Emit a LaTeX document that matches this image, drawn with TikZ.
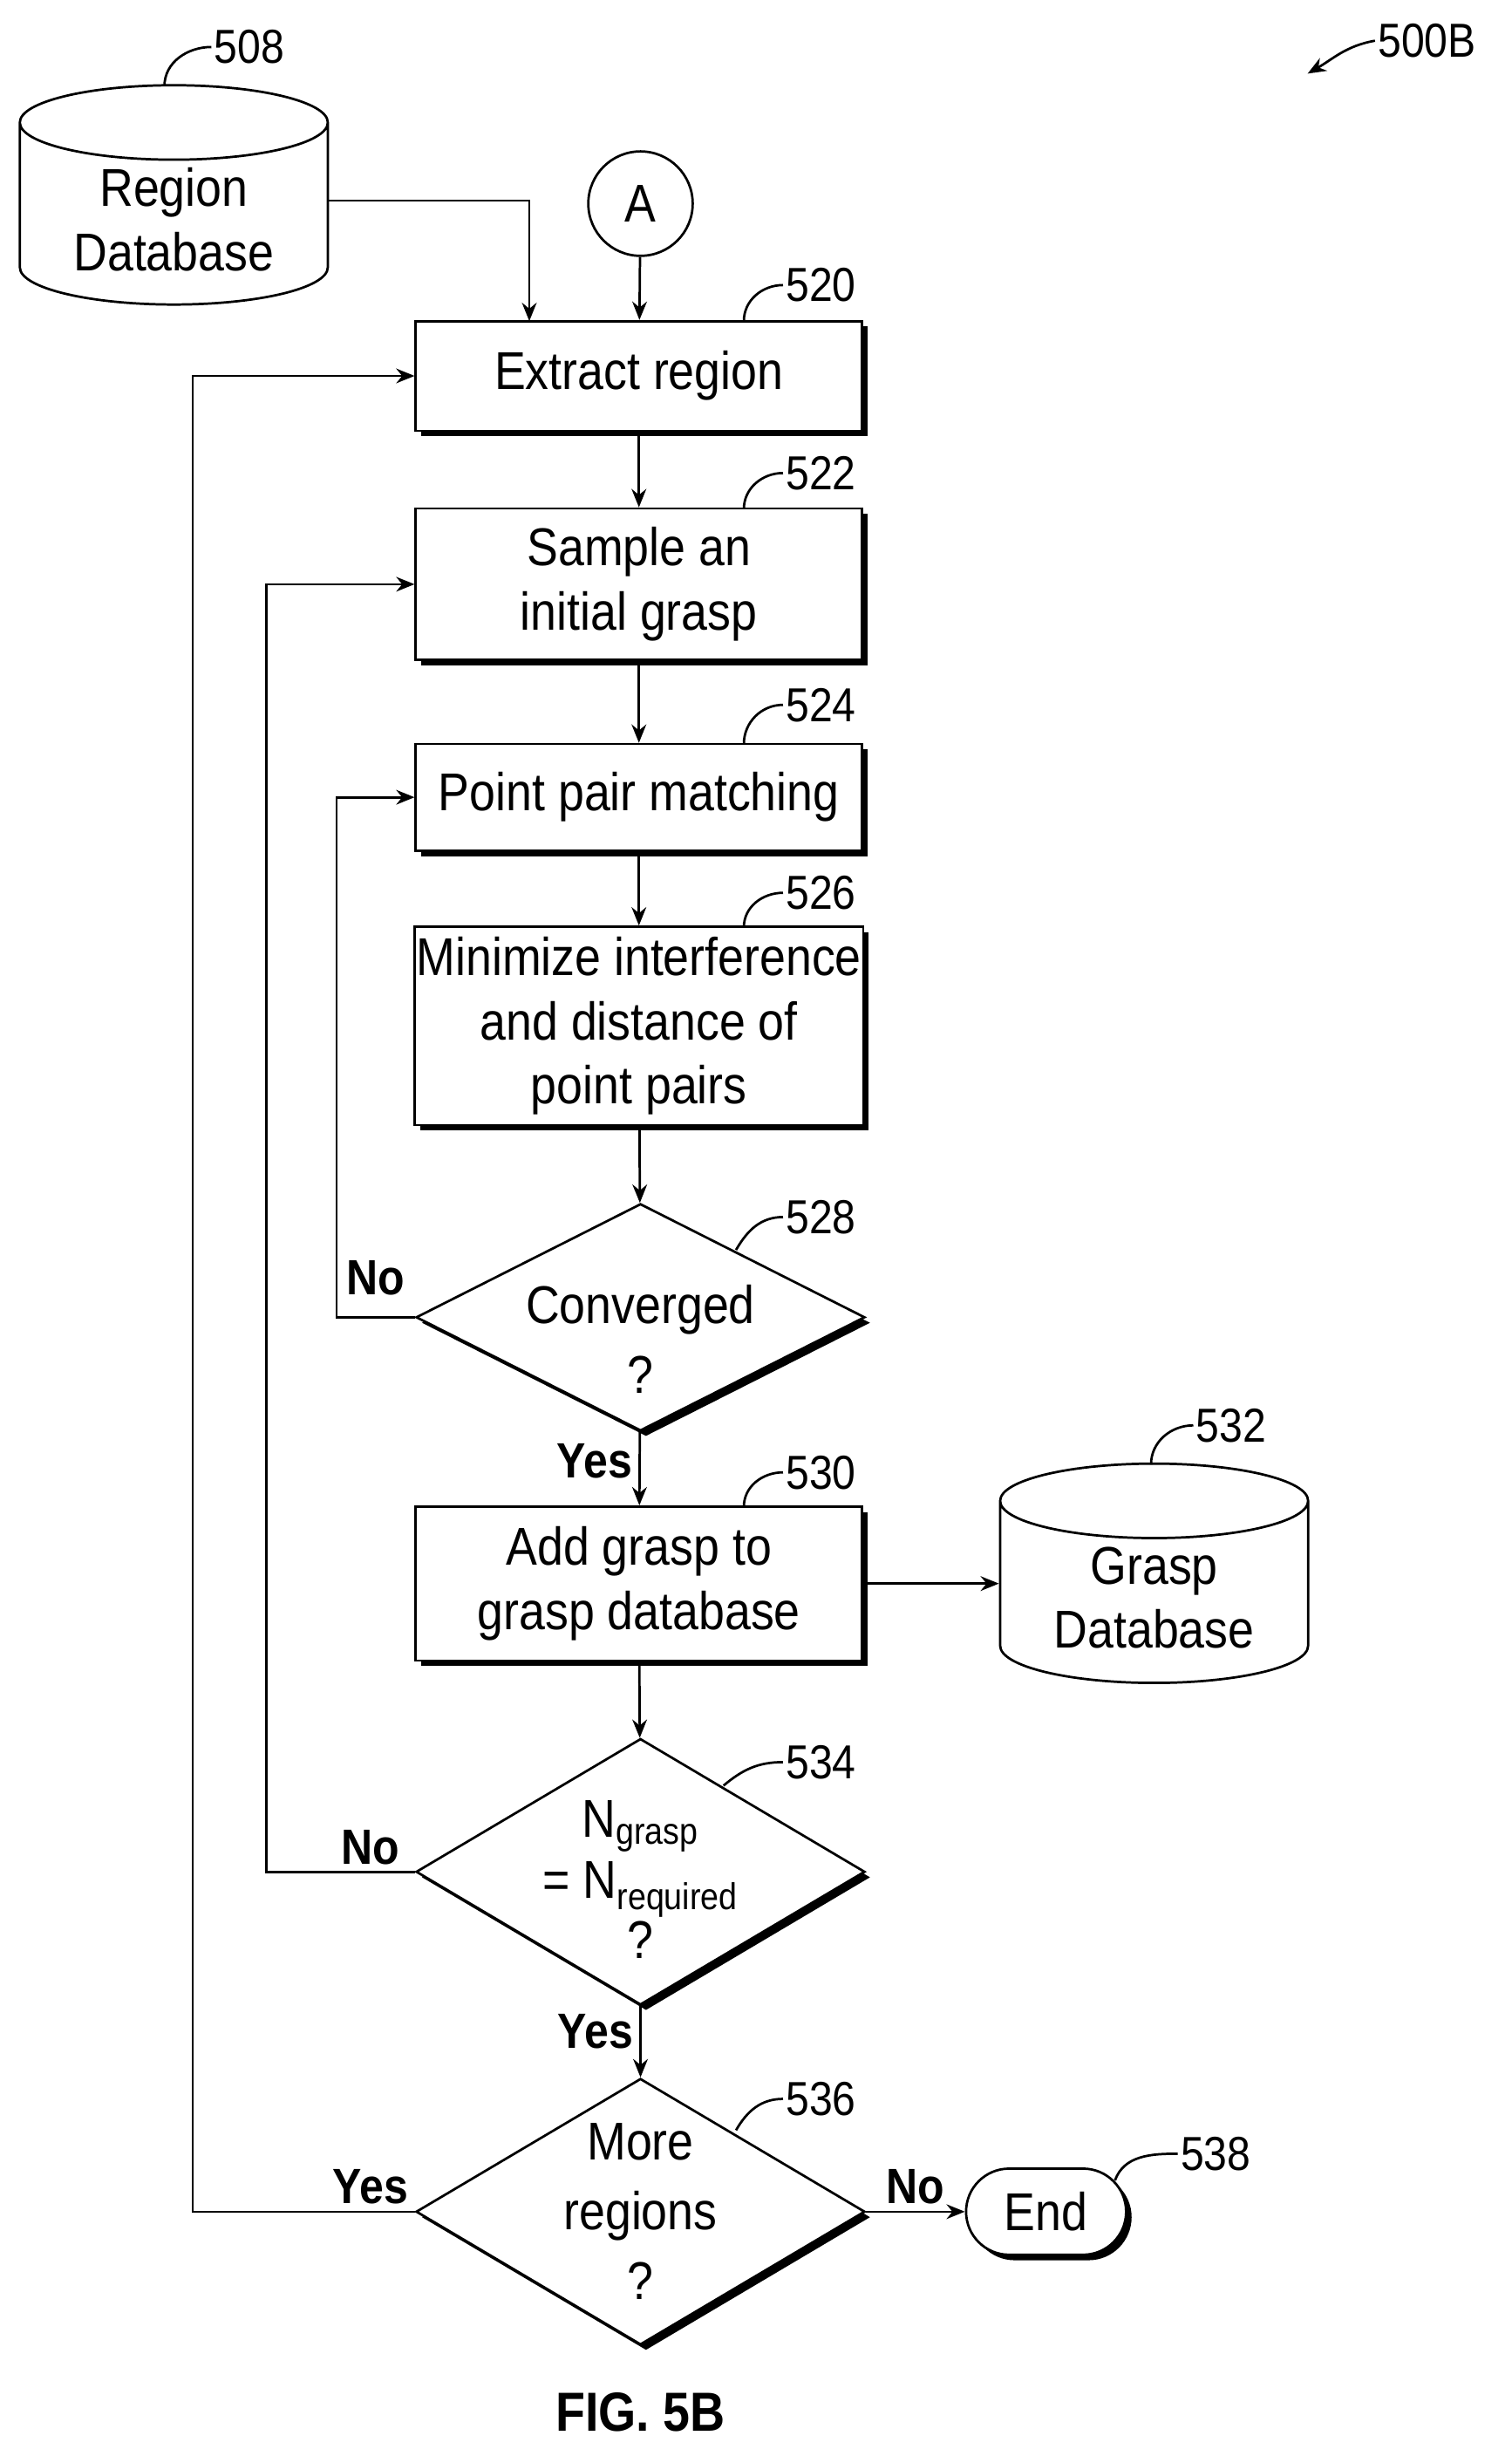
\documentclass[tikz,border=0pt]{standalone}
\usepackage{fontspec}
\setmainfont{Liberation Sans}[FakeStretch=0.88]
\usetikzlibrary{shapes.geometric,shapes.misc,shadows,arrows.meta}

\begin{document}
\begin{tikzpicture}[x=0.03cm,y=-0.03cm,>={Stealth[length=10pt,width=8pt]},line width=1.3pt,
  font=\fontsize{29}{35}\selectfont,
  proc/.style={rectangle,draw,fill=white,minimum width=8.55cm,align=center,
    inner sep=1pt,drop shadow={shadow xshift=3pt,shadow yshift=-3pt,fill=black,opacity=1}},
  dec/.style={diamond,draw,fill=white,minimum width=8.6cm,minimum height=4.35cm,inner sep=0pt,
    drop shadow={shadow xshift=3pt,shadow yshift=-3pt,fill=black,opacity=1}},
  store/.style={cylinder,shape border rotate=90,draw,fill=white,aspect=0.35,
    minimum width=5.9cm,minimum height=4.2cm,align=center},
  term/.style={rounded rectangle,draw,fill=white,minimum width=3.3cm,minimum height=1.65cm,
    drop shadow={shadow xshift=3pt,shadow yshift=-3pt,fill=black,opacity=1}},
  num/.style={font=\fontsize{26}{30}\selectfont,anchor=west,inner sep=1pt},
  yn/.style={font=\fontsize{27}{31}\selectfont\bfseries}]
  \useasboundingbox (0,0) rectangle (965,1568);

  % stores and connector
  \node[store] (regdb) at (111,140) {Region\\Database};
  \node[circle,draw,minimum size=2cm] (conA) at (409,130) {A};

  % process steps
  \node[proc,minimum height=2.1cm]  (extract) at (408,240) {Extract region};
  \node[proc,minimum height=2.9cm]  (sample)  at (408,373) {Sample an\\initial grasp};
  \node[proc,minimum height=2.04cm] (match)   at (408,509) {Point pair matching};
  \node[proc,minimum height=3.8cm]  (minim)   at (408,655) {Minimize interference\\and distance of\\point pairs};
  \node[dec] (conv) at (409,841) {};
  \node[align=center] at (409,855) {Converged\\[3pt]?};
  \node[proc,minimum height=2.95cm] (addg)    at (408,1011) {Add grasp to\\grasp database};
  \node[store,minimum height=4.2cm] (graspdb) at (737,1020) {Grasp\\Database};
  \node[dec,minimum height=5.1cm] (ngrasp) at (409,1195) {};
  \node[align=center,font=\fontsize{29}{33}\selectfont] at (409,1200) {N\textsubscript{grasp}\\= N\textsubscript{required}\\?};
  \node[dec,minimum height=5.1cm] (more) at (409,1412) {};
  \node[align=center,font=\fontsize{29}{38}\selectfont] at (409,1412) {More\\regions\\?};
  \node[term] (endn) at (668,1412) {End};

  % main flow
  \draw[->] (conA) -- (extract);
  \draw[->] (regdb.east |- 0,128) -| (338,205);
  \draw[->] (extract) -- (sample);
  \draw[->] (sample) -- (match);
  \draw[->] (match) -- (minim);
  \draw[->] (minim) -- (conv);
  \draw[->] (conv) -- node[yn,left,pos=0.4] {Yes} (addg);
  \draw[->] (addg) -- (graspdb.west |- addg);
  \draw[->] (addg) -- (ngrasp);
  \draw[->] (ngrasp) -- node[yn,left,pos=0.35] {Yes} (more);
  \draw[->] (more) -- node[yn,above] {No} (endn);

  % loops back
  \draw[->] (conv.west) -- node[yn,above,yshift=8pt] {No} (215,841) |- (match.west);
  \draw[->] (ngrasp.west) -- node[yn,above,pos=0.3] {No} (170,1195) |- (sample.west);
  \draw[->] (more.west) -- node[yn,above,pos=0.2] {Yes} (123,1412) |- (extract.west);

  % reference numerals
  \node[num] (n508) at (135,30) {508};
  \draw (105,55) to[out=90,in=180] (n508.west);
  \node[num] (n520) at (500,182) {520};
  \draw (475,205) to[out=90,in=180] (n520.west);
  \node[num] (n522) at (500,302) {522};
  \draw (475,325) to[out=90,in=180] (n522.west);
  \node[num] (n524) at (500,450) {524};
  \draw (475,475) to[out=90,in=180] (n524.west);
  \node[num] (n526) at (500,570) {526};
  \draw (475,592) to[out=90,in=180] (n526.west);
  \node[num] (n528) at (500,777) {528};
  \draw (470,798) to[out=60,in=180] (n528.west);
  \node[num] (n530) at (500,940) {530};
  \draw (475,962) to[out=90,in=180] (n530.west);
  \node[num] (n532) at (762,910) {532};
  \draw (735,935) to[out=90,in=180] (n532.west);
  \node[num] (n534) at (500,1125) {534};
  \draw (462,1140) to[out=40,in=180] (n534.west);
  \node[num] (n536) at (500,1340) {536};
  \draw (470,1360) to[out=60,in=180] (n536.west);
  \node[num] (n538) at (752,1375) {538};
  \draw (712,1392) to[out=70,in=180] (n538.west);
  \node[num] (n500) at (878,26) {500B};
  \draw[->] (n500.west) to[out=190,in=30] (835,47);

  \node[font=\fontsize{30}{35}\selectfont\bfseries] (fig) at (409,1540) {FIG. 5B};
\end{tikzpicture}
\end{document}
